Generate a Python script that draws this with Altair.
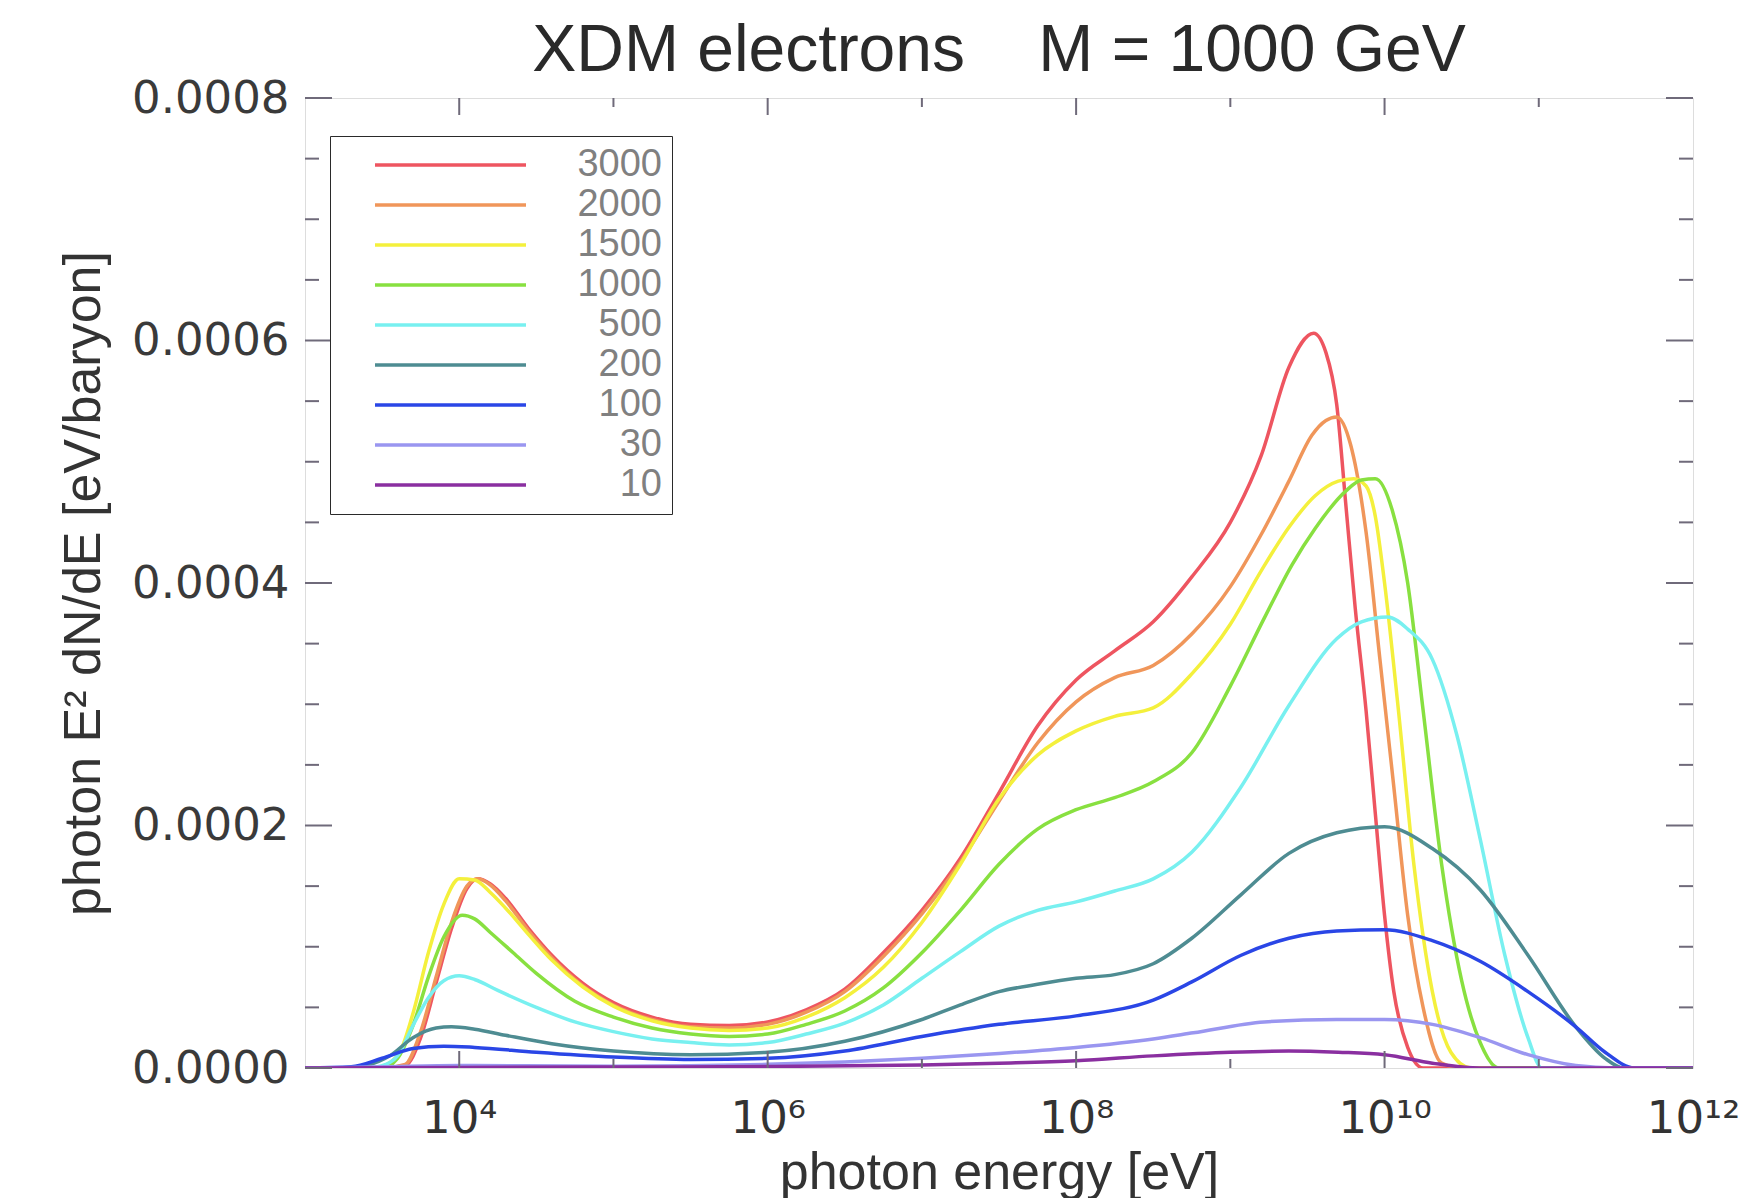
import altair as alt
import pandas as pd

# ---------------- data (log10 photon energy [eV], E^2 dN/dE in units of 1e-4 eV/baryon) ----------------
series_names = ["3000", "2000", "1500", "1000", "500", "200", "100", "30", "10"]
series_colors = ["#ee5560", "#f0965a", "#f4f03c", "#88e040", "#78f0f0",
                 "#4e8c92", "#2a46e6", "#9a96f0", "#8a2fa0"]
Y_UNIT = 1e-4

logE_3000 = [3.0, 3.5, 3.65, 3.75, 3.85, 3.95, 4.05, 4.12, 4.2, 4.3, 4.45, 4.6, 4.8, 5.0, 5.25, 5.5, 5.75, 6.0, 6.25, 6.5,
             6.75, 7.0, 7.25, 7.5, 7.75, 8.0, 8.25, 8.5, 8.75, 9.0, 9.2, 9.38, 9.54, 9.62, 9.69, 9.75, 9.81, 9.88, 9.94, 10.0,
             10.06, 10.15, 10.25, 10.5, 12.0]
val_3000 = [0, 0, 0.02, 0.25, 0.7, 1.15, 1.48, 1.56, 1.52, 1.40, 1.15, 0.93, 0.70, 0.54, 0.42, 0.36, 0.35, 0.38, 0.48, 0.65,
            0.95, 1.30, 1.73, 2.27, 2.82, 3.20, 3.44, 3.68, 4.05, 4.50, 5.05, 5.78, 6.06, 5.90, 5.47, 4.63, 3.79, 2.95, 2.10, 1.26,
            0.63, 0.17, 0.0, 0, 0]

logE_2000 = [3.0, 3.5, 3.65, 3.75, 3.85, 3.95, 4.05, 4.12, 4.2, 4.3, 4.45, 4.6, 4.8, 5.0, 5.25, 5.5, 5.75, 6.0, 6.25, 6.5,
             6.75, 7.0, 7.25, 7.5, 7.75, 8.0, 8.25, 8.5, 8.75, 9.0, 9.2, 9.38, 9.53, 9.62, 9.69, 9.78, 9.88, 9.97, 10.06, 10.15,
             10.25, 10.37, 10.5, 12.0]
val_2000 = [0, 0, 0.03, 0.3, 0.75, 1.2, 1.5, 1.56, 1.51, 1.38, 1.13, 0.91, 0.68, 0.52, 0.40, 0.34, 0.33, 0.36, 0.46, 0.63,
            0.92, 1.27, 1.70, 2.20, 2.68, 3.02, 3.22, 3.32, 3.58, 3.97, 4.40, 4.84, 5.22, 5.34, 5.37, 5.14, 4.42, 3.37, 2.32, 1.26,
            0.5, 0.04, 0, 0]

logE_1500 = [3.0, 3.45, 3.6, 3.7, 3.8, 3.9, 4.0, 4.1, 4.2, 4.3, 4.45, 4.6, 4.8, 5.0, 5.25, 5.5, 5.75, 6.0, 6.25, 6.5,
             6.75, 7.0, 7.25, 7.5, 7.75, 8.0, 8.25, 8.5, 8.75, 9.0, 9.2, 9.38, 9.55, 9.7, 9.8, 9.88, 9.94, 10.0, 10.09, 10.19,
             10.31, 10.43, 10.56, 12.0]
val_1500 = [0, 0, 0.1, 0.45, 0.95, 1.35, 1.56, 1.55, 1.45, 1.32, 1.10, 0.89, 0.67, 0.51, 0.39, 0.33, 0.31, 0.33, 0.42, 0.58,
            0.83, 1.20, 1.68, 2.22, 2.58, 2.78, 2.90, 2.97, 3.25, 3.66, 4.10, 4.46, 4.72, 4.84, 4.86, 4.80, 4.55, 4.0, 2.95, 1.68,
            0.63, 0.13, 0, 0]

logE_1000 = [3.0, 3.5, 3.6, 3.7, 3.8, 3.9, 4.02, 4.1, 4.2, 4.35, 4.5, 4.75, 5.0, 5.25, 5.5, 5.75, 6.0, 6.25, 6.5, 6.75,
             7.0, 7.25, 7.5, 7.75, 8.0, 8.25, 8.5, 8.75, 9.0, 9.22, 9.4, 9.55, 9.75, 9.85, 9.94, 10.05, 10.15, 10.25, 10.37, 10.5,
             10.62, 10.74, 12.0]
val_1000 = [0, 0, 0.08, 0.35, 0.75, 1.08, 1.26, 1.23, 1.12, 0.95, 0.78, 0.55, 0.42, 0.33, 0.28, 0.26, 0.28, 0.36, 0.47, 0.66,
            0.95, 1.30, 1.68, 1.97, 2.13, 2.23, 2.36, 2.60, 3.15, 3.71, 4.15, 4.45, 4.76, 4.85, 4.86, 4.60, 4.0, 2.95, 1.68, 0.72,
            0.21, 0.0, 0]

logE_500 = [3.0, 3.4, 3.5, 3.6, 3.7, 3.8, 3.9, 4.0, 4.1, 4.25, 4.5, 4.75, 5.0, 5.25, 5.5, 5.75, 6.0, 6.25, 6.5, 6.75,
            7.0, 7.25, 7.5, 7.75, 8.0, 8.25, 8.5, 8.75, 9.07, 9.38, 9.69, 9.85, 10.02, 10.15, 10.31, 10.47, 10.62, 10.78, 10.93, 11.02,
            12.0]
val_500 = [0, 0, 0.02, 0.1, 0.35, 0.58, 0.72, 0.76, 0.73, 0.64, 0.50, 0.38, 0.30, 0.24, 0.21, 0.19, 0.21, 0.28, 0.37, 0.52,
           0.74, 0.96, 1.17, 1.30, 1.37, 1.46, 1.56, 1.78, 2.32, 2.99, 3.54, 3.68, 3.72, 3.62, 3.37, 2.74, 1.89, 0.93, 0.25, 0.0,
           0]

logE_200 = [3.0, 3.3, 3.4, 3.55, 3.7, 3.85, 3.95, 4.1, 4.3, 4.6, 5.0, 5.5, 6.0, 6.5, 7.0, 7.25, 7.5, 7.75, 8.0, 8.25,
            8.5, 8.75, 9.07, 9.38, 9.69, 10.0, 10.31, 10.62, 10.93, 11.24, 11.43, 11.55, 12.0]
val_200 = [0, 0, 0.02, 0.1, 0.25, 0.33, 0.34, 0.32, 0.27, 0.20, 0.14, 0.11, 0.13, 0.22, 0.40, 0.52, 0.63, 0.69, 0.74, 0.77,
           0.86, 1.07, 1.43, 1.77, 1.94, 1.99, 1.81, 1.47, 0.93, 0.34, 0.08, 0.0, 0]

logE_100 = [3.0, 3.3, 3.5, 3.7, 3.9, 4.1, 4.5, 5.0, 5.5, 6.0, 6.5, 7.0, 7.5, 8.0, 8.5, 8.75, 9.07, 9.38, 9.69, 10.0,
            10.31, 10.62, 10.93, 11.24, 11.43, 11.62, 12.0]
val_100 = [0, 0.01, 0.08, 0.16, 0.18, 0.17, 0.13, 0.09, 0.07, 0.08, 0.14, 0.26, 0.36, 0.43, 0.56, 0.71, 0.93, 1.07, 1.13, 1.14,
           1.05, 0.88, 0.63, 0.34, 0.13, 0.0, 0]

logE_30 = [3.0, 3.5, 4.0, 5.0, 6.0, 6.5, 7.0, 7.5, 8.0, 8.5, 8.76, 9.22, 9.69, 10.0, 10.31, 10.62, 10.93, 11.24, 11.5, 12.0]
val_30 = [0, 0.01, 0.02, 0.015, 0.03, 0.05, 0.08, 0.12, 0.17, 0.24, 0.29, 0.38, 0.40, 0.40, 0.36, 0.25, 0.11, 0.02, 0, 0]

logE_10 = [3.0, 4.0, 5.0, 6.0, 7.0, 7.5, 8.0, 8.5, 9.0, 9.38, 9.7, 10.0, 10.31, 10.62, 11.0, 12.0]
val_10 = [0, 0.005, 0.008, 0.012, 0.025, 0.04, 0.06, 0.10, 0.13, 0.14, 0.13, 0.11, 0.04, 0.0, 0, 0]

x_label_values = [1e4, 1e6, 1e8, 1e10, 1e12]
y_label_values = [0.0, 0.0002, 0.0004, 0.0006, 0.0008]
y_minor_values = [0.00005, 0.0001, 0.00015, 0.00025, 0.0003, 0.00035, 0.00045, 0.0005, 0.00055,
                  0.00065, 0.0007, 0.00075]
x_major_ticks = [1e4, 1e6, 1e8, 1e10]
x_minor_ticks = [1e5, 1e7, 1e9, 1e11]

series_data = [
    ("3000", logE_3000, val_3000), ("2000", logE_2000, val_2000), ("1500", logE_1500, val_1500),
    ("1000", logE_1000, val_1000), ("500", logE_500, val_500), ("200", logE_200, val_200),
    ("100", logE_100, val_100), ("30", logE_30, val_30), ("10", logE_10, val_10),
]

rows = []
for name, lx, vy in series_data:
    for a, b in zip(lx, vy):
        rows.append({"series": name, "E": 10 ** a, "y": b * Y_UNIT})
df = pd.DataFrame(rows)

# ---------------- chart ----------------
W, H = 1388, 970
FRAME = "#6f6a7a"

xscale = alt.Scale(type="log", domain=[1e3, 1e12], nice=False)
yscale = alt.Scale(domain=[0, 0.0008], nice=False, zero=False)

sup_expr = ("datum.value < 1e5 ? '10\u2074' : datum.value < 1e7 ? '10\u2076' : "
            "datum.value < 1e9 ? '10\u2078' : datum.value < 1e11 ? '10\u00b9\u2070' : '10\u00b9\u00b2'")

x_axis = alt.Axis(values=x_label_values, labelExpr=sup_expr, title="photon energy [eV]",
                  ticks=False, tickSize=0, domain=False, grid=False,
                  labelFont="DejaVu Sans", labelFontSize=45, labelColor="#333333",
                  labelPadding=28, labelFlush=False, labelOverlap=False, labelLimit=400,
                  titleFont="Liberation Sans", titleFontSize=52, titleFontWeight="normal",
                  titleColor="#333333", titleBaseline="alphabetic", titleY=120)
y_axis = alt.Axis(values=y_label_values, format=".4f", title="photon E\u00b2 dN/dE [eV/baryon]",
                  ticks=False, tickSize=0, domain=False, grid=False,
                  labelFont="DejaVu Sans", labelFontSize=45, labelColor="#3a3a3a",
                  labelPadding=16, labelBaseline="middle", labelLimit=400,
                  titleFont="Liberation Sans", titleFontSize=52, titleFontWeight="normal",
                  titleColor="#333333", titleBaseline="alphabetic", titleX=-206, titleY=485)

lines = alt.Chart(df).mark_line(strokeWidth=3.5, interpolate="monotone", clip=True).encode(
    x=alt.X("E:Q", scale=xscale, axis=x_axis),
    y=alt.Y("y:Q", scale=yscale, axis=y_axis),
    color=alt.Color("series:N",
                    scale=alt.Scale(domain=series_names, range=series_colors),
                    legend=alt.Legend(title=None, orient="none", legendX=25, legendY=38,
                                      symbolType="stroke", symbolSize=22801, symbolStrokeWidth=3.5,
                                      symbolOffset=33, labelAlign="right", labelOffset=134,
                                      labelFont="Liberation Sans", labelFontSize=38, labelColor="#808080",
                                      labelLimit=400, padding=10, rowPadding=2, clipHeight=38,
                                      strokeColor="#2a2a2a", fillColor="white")),
    detail="series:N",
    order=alt.Order("E:Q"),
)


def tick_layer(vals, channel, length, side):
    if channel == "y":
        d = pd.DataFrame({"y": vals})
        enc = dict(y=alt.Y("y:Q", scale=yscale, axis=y_axis))
        if side == "left":
            enc.update(x=alt.value(0), x2=alt.value(length))
        else:
            enc.update(x=alt.value(W), x2=alt.value(W - length))
    else:
        d = pd.DataFrame({"E": vals})
        enc = dict(x=alt.X("E:Q", scale=xscale, axis=x_axis))
        if side == "bottom":
            enc.update(y=alt.value(H), y2=alt.value(H - length))
        else:
            enc.update(y=alt.value(0), y2=alt.value(length))
    return alt.Chart(d).mark_rule(color=FRAME, strokeWidth=2).encode(**enc)


ticks = [
    tick_layer(y_label_values, "y", 27, "left"), tick_layer(y_minor_values, "y", 14, "left"),
    tick_layer(y_label_values, "y", 27, "right"), tick_layer(y_minor_values, "y", 14, "right"),
    tick_layer(x_major_ticks, "x", 17, "bottom"), tick_layer(x_minor_ticks, "x", 9, "bottom"),
    tick_layer(x_major_ticks, "x", 17, "top"), tick_layer(x_minor_ticks, "x", 9, "top"),
]

chart = alt.layer(lines, *ticks).properties(
    width=W, height=H,
    autosize=alt.AutoSizeParams(type="none"),
    padding={"left": 297, "top": 90, "right": 55, "bottom": 130},
    title=alt.TitleParams("XDM electrons\u00a0\u00a0\u00a0\u00a0M = 1000 GeV", fontSize=66,
                          font="Liberation Sans", fontWeight="normal", color="#2a2a2a",
                          anchor="middle", frame="group", offset=25, baseline="alphabetic", dy=86),
).configure_view(
    stroke=FRAME, strokeWidth=2.5
).configure_legend(
    strokeWidth=4
).configure(background="white")

chart.save("out.html", embed_options={"renderer": "svg", "actions": False})
